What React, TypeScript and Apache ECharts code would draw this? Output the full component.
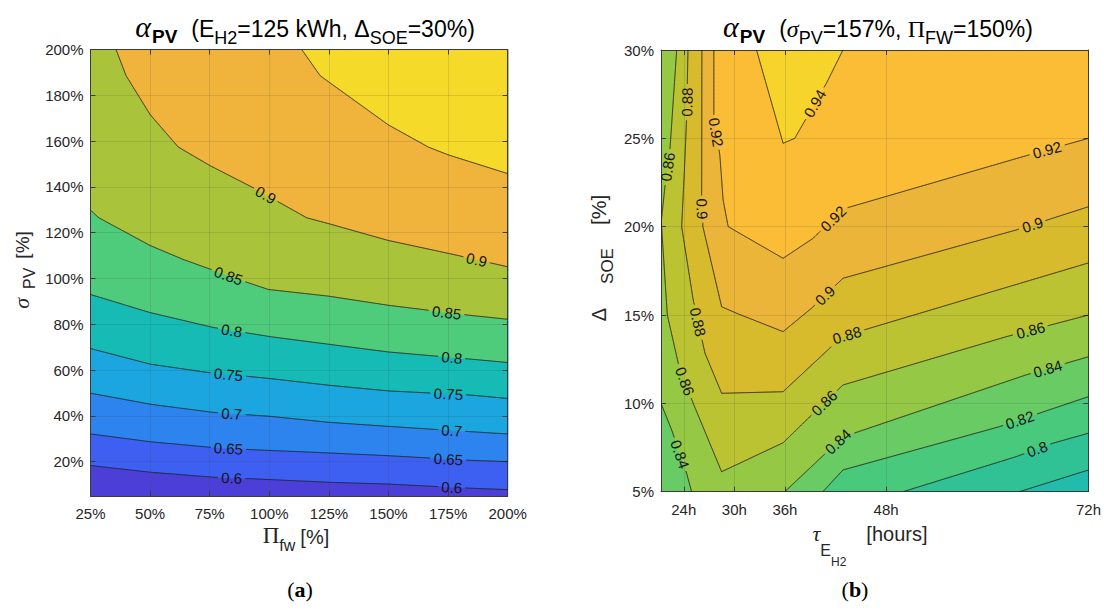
import React, { useEffect, useRef } from "react";
import * as echarts from "echarts";

const SANS = '"Liberation Sans", Arial, sans-serif';
const SERIF = '"Liberation Serif", "Times New Roman", serif';

// ================= (a) alpha_PV vs Pi_fw and sigma_PV =================
const aXTicks = [25, 50, 75, 100, 125, 150, 175, 200];
const aYTicks = [20, 40, 60, 80, 100, 120, 140, 160, 180, 200];
const aXRange = [25, 200];
const aYRange = [5, 200];
const aLevels = [0.6, 0.65, 0.7, 0.75, 0.8, 0.85, 0.9, 0.95];
const aLine060 = [[25, 18.3], [50, 15.4], [76.5, 13.2], [93.3, 12.5], [124.7, 11], [149.9, 10.2], [184.2, 8.4], [200, 7.8]];
const aLine065 = [[25, 32.1], [50, 28.7], [75.1, 26.3], [93.3, 25.2], [124.7, 23.8], [149.9, 22.6], [184.2, 20.6], [200, 20]];
const aLine070 = [[25, 49.9], [50, 45.1], [76.5, 41.5], [100.3, 39.8], [124.7, 37.2], [149.9, 35.4], [184.2, 33.1], [200, 32.1]];
const aLine075 = [[25, 69.4], [50, 62.6], [73.7, 59], [100.3, 56.3], [124.7, 53.4], [149.9, 50.9], [184.2, 49.1], [200, 47.6]];
const aLine080 = [[25, 93], [50, 85.1], [76.5, 78.6], [100.3, 74.6], [124.7, 71.3], [149.9, 67.9], [184.2, 64.8], [200, 63.3]];
const aLine085 = [[25, 129.8], [28.5, 126.5], [50, 114.4], [63.9, 108.3], [89, 98.9], [99.6, 95.2], [124.7, 92.3], [149.9, 88.3], [184.2, 83.9], [200, 82.2]];
const aLine090 = [[35.7, 200], [39.9, 188.6], [50, 171.6], [61.8, 157.4], [75.1, 149.3], [93.3, 139.6], [115.7, 126.5], [124.7, 124], [149.9, 116.6], [177.2, 110.5], [200, 105.1]];
const aLine095 = [[113.6, 200], [121.3, 188.6], [124.7, 186], [149.9, 167.1], [166.7, 157.4], [175, 154], [200, 145.8]];
const aLineList = [aLine060, aLine065, aLine070, aLine075, aLine080, aLine085, aLine090, aLine095];
const aBandColors = ["#4b3fd7", "#3e60f2", "#2d84ef", "#1ba6df", "#16bbb5", "#4ecb7b", "#a9c43a", "#f0b43c", "#f5da2a"];
const aLabels = [
  [0.9, 98.2, 135.9], [0.9, 187.0, 108.3],
  [0.85, 82.8, 101.0], [0.85, 174.4, 85.1],
  [0.8, 84.2, 77.1], [0.8, 176.5, 64.7],
  [0.75, 82.8, 57.5], [0.75, 175.1, 48.8],
  [0.7, 84.2, 40.8], [0.7, 176.5, 33.5],
  [0.65, 82.8, 25.5], [0.65, 175.1, 20.4],
  [0.6, 84.2, 12.2], [0.6, 176.5, 8.1],
];

// ================= (b) alpha_PV vs tau_EH2 and Delta_SOE =================
const bXTicks = [24, 30, 36, 48, 72];
const bYTicks = [5, 10, 15, 20, 25, 30];
const bXRange = [21.3, 72];
const bYRange = [5, 30];
const bLine078 = [[63.8, 5], [72, 6.23]];
const bLine080 = [[50, 5], [63.4, 6.98], [67.74, 7.74], [72, 8.31]];
const bLine082 = [[40.5, 5], [42.88, 6.23], [61.43, 8.68], [72, 10.38]];
const bLine084a = [[21.3, 10], [22.57, 8.49], [24.34, 6.04], [24.93, 5]];
const bLine084b = [[35.98, 5], [42.88, 8.1], [64.59, 11.61], [72, 12.64]];
const bLine086 = [[23.16, 30], [22.36, 24.35], [21.77, 22.27], [21.33, 20.3], [22.05, 15.0], [23.35, 12.27], [25.12, 10.0], [28.49, 6.13], [35.78, 7.77], [38.94, 9.24], [42.88, 11.04], [62.22, 13.77], [72, 15.0]];
const bLine088 = [[24.5, 30], [24.34, 26.15], [24.06, 23.04], [23.75, 20.0], [25.12, 15.85], [26.51, 12.85], [28.49, 10.57], [35.78, 10.66], [41.3, 13.12], [42.88, 13.8], [72, 17.95]];
const bLine090 = [[26.15, 30], [26.12, 21.68], [26.27, 20.0], [28.49, 15.47], [30.26, 15.1], [35.78, 14.06], [39.14, 15.38], [42.88, 17.08], [63.4, 19.81], [72, 21.13]];
const bLine092 = [[27.57, 30], [27.57, 26.2], [28.28, 24.05], [28.67, 21.51], [29.27, 20.0], [35.78, 18.21], [39.33, 19.34], [42.88, 21.0], [64.19, 23.96], [72, 25.0]];
const bLine094 = [[32.63, 30], [35.78, 24.72], [37.16, 25.0], [40.91, 28.11], [42.88, 30]];
const bLevels = [0.78, 0.8, 0.82, 0.84, 0.86, 0.88, 0.9, 0.92, 0.94];
const bLineLevels = [0.78, 0.8, 0.82, 0.84, 0.84, 0.86, 0.88, 0.9, 0.92, 0.94];
const bLineList = [bLine078, bLine080, bLine082, bLine084a, bLine084b, bLine086, bLine088, bLine090, bLine092, bLine094];
// superlevel regions: which lines (indices into bLineList) and boundary corners close them
const bRegionLines = [[0], [1], [2], [3, 4], [5], [6], [7], [8], [9]];
const bRegionClose = [
  [[72, 30], [21.3, 30], [21.3, 5]],
  [[72, 30], [21.3, 30], [21.3, 5]],
  [[72, 30], [21.3, 30], [21.3, 5]],
  [[72, 30], [21.3, 30]],
  [[72, 30]], [[72, 30]], [[72, 30]], [[72, 30]], [],
];
const bBandColors = ["#22bcad", "#30c294", "#48c97c", "#68cb64", "#95c845", "#bbc333", "#d7bb2d", "#ebb53a", "#fbbd35", "#f6d42b"];
const bLabels = [
  [0.88, 24.54, 27.05], [0.92, 28.08, 25.36], [0.86, 22.16, 23.38], [0.9, 26.15, 21.0],
  [0.88, 25.62, 14.6], [0.86, 23.9, 11.21], [0.84, 23.31, 7.08],
  [0.94, 39.53, 26.98], [0.92, 67.15, 24.24], [0.92, 42.1, 20.28], [0.9, 65.37, 20.1], [0.9, 40.71, 16.13],
  [0.88, 43.47, 13.68], [0.86, 65.18, 14.06], [0.86, 40.71, 10.0], [0.84, 67.15, 11.98], [0.84, 42.1, 7.93],
  [0.82, 63.8, 9.15], [0.8, 65.96, 7.36],
];

// ================= helpers =================
const LABEL_FONT = `15px ${SANS}`;
let measureCtx: CanvasRenderingContext2D | null = null;
function textWidth(t: string, font: string) {
  if (!measureCtx) measureCtx = document.createElement("canvas").getContext("2d");
  measureCtx!.font = font;
  return measureCtx!.measureText(t).width;
}

function project(pts: number[][], p: number[]) {
  let best = Infinity, bx = 0, by = 0, bdx = 1, bdy = 0;
  for (let i = 0; i < pts.length - 1; i++) {
    const [x0, y0] = pts[i];
    const [x1, y1] = pts[i + 1];
    const dx = x1 - x0, dy = y1 - y0;
    const L2 = dx * dx + dy * dy || 1;
    let t = ((p[0] - x0) * dx + (p[1] - y0) * dy) / L2;
    t = Math.max(0, Math.min(1, t));
    const qx = x0 + dx * t, qy = y0 + dy * t;
    const d = (qx - p[0]) ** 2 + (qy - p[1]) ** 2;
    if (d < best) { best = d; bx = qx; by = qy; bdx = dx; bdy = dy; }
  }
  return { x: bx, y: by, dx: bdx, dy: bdy, d: best };
}

function labelGeom(api: any, lines: number[][][], lineLevels: number[], lab: number[]) {
  const p = api.coord([lab[1], lab[2]]);
  let best: any = null;
  lines.forEach((ln, i) => {
    if (Math.abs(lineLevels[i] - lab[0]) > 1e-9) return;
    const px = ln.map((q) => api.coord(q));
    const r = project(px, p);
    if (!best || r.d < best.d) best = r;
  });
  let phi = Math.atan2(-best.dy, best.dx);
  while (phi > Math.PI / 2 + 1e-6) phi -= Math.PI;
  while (phi <= -Math.PI / 2 + 1e-6) phi += Math.PI;
  const text = String(lab[0]);
  return { x: best.x, y: best.y, phi, text, hw: textWidth(text, LABEL_FONT) / 2 + 3, hh: 7 };
}

function makeSeries(xi: number, lines: number[][][], lineLevels: number[], regions: number[][][], colors: string[], labels: number[][], xr: number[], yr: number[]) {
  const bg = [[xr[0], yr[0]], [xr[1], yr[0]], [xr[1], yr[1]], [xr[0], yr[1]]];
  const polys = [bg, ...regions];
  const fill = {
    type: "custom", xAxisIndex: xi * 2, yAxisIndex: xi * 2, silent: true, z: 1, clip: true,
    data: polys.map((_, i) => [xr[0], yr[0], i]),
    renderItem: (params: any, api: any) => {
      const i = params.dataIndex;
      const pts = polys[i].map((q) => api.coord(q));
      return { type: "polygon", shape: { points: pts }, style: { fill: colors[i], stroke: colors[i], lineWidth: 0.6 } };
    },
  };
  const lineSeries = {
    type: "custom", xAxisIndex: xi * 2, yAxisIndex: xi * 2, silent: true, z: 4, clip: true,
    data: lines.map((_, i) => [xr[0], yr[0], i]),
    renderItem: (params: any, api: any) => {
      const i = params.dataIndex;
      const pts = lines[i].map((q) => api.coord(q));
      const geoms = labels.filter((l) => Math.abs(l[0] - lineLevels[i]) < 1e-9).map((l) => labelGeom(api, lines, lineLevels, l));
      const inGap = (x: number, y: number) => geoms.some((g) => {
        const c = Math.cos(g.phi), s = Math.sin(g.phi);
        const u = (x - g.x) * c - (y - g.y) * s;
        const v = (x - g.x) * s + (y - g.y) * c;
        return Math.abs(u) < g.hw && Math.abs(v) < g.hh;
      });
      const pieces: number[][][] = [];
      let cur: number[][] = [];
      for (let s = 0; s < pts.length - 1; s++) {
        const [x0, y0] = pts[s];
        const [x1, y1] = pts[s + 1];
        const n = Math.max(1, Math.ceil(Math.hypot(x1 - x0, y1 - y0) / 0.8));
        for (let k = s === 0 ? 0 : 1; k <= n; k++) {
          const t = k / n;
          const x = x0 + (x1 - x0) * t, y = y0 + (y1 - y0) * t;
          if (inGap(x, y)) { if (cur.length > 1) pieces.push(cur); cur = []; }
          else cur.push([x, y]);
        }
      }
      if (cur.length > 1) pieces.push(cur);
      return {
        type: "group",
        children: pieces.map((pc) => ({ type: "polyline", shape: { points: pc }, style: { stroke: "#1e1e1e", lineWidth: 0.9, fill: null } })),
      };
    },
  };
  const labelSeries = {
    type: "custom", xAxisIndex: xi * 2, yAxisIndex: xi * 2, silent: true, z: 5, clip: false,
    data: labels.map((_, i) => [xr[0], yr[0], i]),
    renderItem: (params: any, api: any) => {
      const g = labelGeom(api, lines, lineLevels, labels[params.dataIndex]);
      return {
        type: "text", x: g.x, y: g.y, rotation: g.phi,
        style: { text: g.text, font: LABEL_FONT, fill: "#141414", align: "center", verticalAlign: "middle" },
      };
    },
  };
  return [fill, lineSeries, labelSeries];
}

type Piece = { t: string; font: string; size: number; dy?: number; gap?: number; color?: string };
function textRun(pieces: Piece[], x: number, y: number, anchor: "left" | "center", rotation = 0, color = "#262626") {
  const widths = pieces.map((p) => textWidth(p.t, p.font));
  const total = widths.reduce((a, w, i) => a + w + (pieces[i].gap || 0), 0);
  let cx = anchor === "center" ? -total / 2 : 0;
  const children = pieces.map((p, i) => {
    cx += p.gap || 0;
    const el = {
      type: "text", x: cx, y: (p.dy || 0) - 0.35 * p.size,
      style: { text: p.t, font: p.font, fill: p.color || color, align: "left", verticalAlign: "middle" },
    };
    cx += widths[i];
    return el;
  });
  return { type: "group", x, y, rotation, children };
}

function axisPair(gridIndex: number, range: number[], ticks: number[], fmt: (v: number) => string, dir: "x" | "y", interval?: number) {
  const common = {
    type: "value", gridIndex, min: range[0], max: range[1], z: 3,
    axisLine: { show: true, onZero: false, lineStyle: { color: "#3a3a3a", width: 1 } },
    axisTick: { show: true, inside: true, length: 5, lineStyle: { color: "#3a3a3a" }, customValues: ticks },
  };
  const main: any = {
    ...common,
    position: dir === "x" ? "bottom" : "left",
    axisLabel: { show: true, customValues: ticks, formatter: (v: number) => fmt(v), color: "#262626", fontSize: 15, fontFamily: "Liberation Sans", margin: dir === "x" ? 10 : 7 },
    splitLine: { show: true, lineStyle: { color: "rgba(60,60,60,0.15)", width: 1 } },
  };
  const second: any = {
    ...common,
    position: dir === "x" ? "top" : "right",
    axisLabel: { show: false },
    splitLine: { show: false },
  };
  if (interval) { main.interval = interval; second.interval = interval; }
  return [main, second];
}

function buildOption() {
  const aLineLevels = aLevels;
  const aRegions = aLineList.map((ln) => [...ln, [aXRange[1], aYRange[1]], [aXRange[0], aYRange[1]]]);
  const bRegions = bRegionLines.map((idxs, k) => {
    const pts: number[][] = [];
    idxs.forEach((i) => pts.push(...bLineList[i]));
    pts.push(...bRegionClose[k]);
    return pts;
  });
  const pct = (v: number) => `${v}%`;
  const hrs = (v: number) => `${v}h`;
  const [ax0, ax1] = axisPair(0, aXRange, aXTicks, pct, "x", 25);
  const [ay0, ay1] = axisPair(0, aYRange, aYTicks, pct, "y");
  const [bx0, bx1] = axisPair(1, bXRange, bXTicks, hrs, "x");
  const [by0, by1] = axisPair(1, bYRange, bYTicks, pct, "y", 5);

  const S = (n: number) => `${n}px ${SANS}`;
  const graphic = [
    // title (a)
    textRun([
      { t: "α", font: `italic 30px ${SERIF}`, size: 30 },
      { t: "PV", font: `bold 19px ${SANS}`, size: 19, dy: 6, gap: 1 },
      { t: "(E", font: S(23), size: 23, gap: 14 },
      { t: "H2", font: S(18), size: 18, dy: 7 },
      { t: "=125 kWh, Δ", font: S(23), size: 23 },
      { t: "SOE", font: S(18), size: 18, dy: 7 },
      { t: "=30%)", font: S(23), size: 23 },
    ], 305, 37, "center", 0, "#000"),
    // title (b)
    textRun([
      { t: "α", font: `italic 30px ${SERIF}`, size: 30 },
      { t: "PV", font: `bold 19px ${SANS}`, size: 19, dy: 6, gap: 1 },
      { t: "(", font: S(23), size: 23, gap: 14 },
      { t: "σ", font: `italic 24px ${SERIF}`, size: 24 },
      { t: "PV", font: S(18), size: 18, dy: 7 },
      { t: "=157%, ", font: S(23), size: 23 },
      { t: "Π", font: `24px ${SERIF}`, size: 24 },
      { t: "FW", font: S(18), size: 18, dy: 7 },
      { t: "=150%)", font: S(23), size: 23 },
    ], 878, 37, "center", 0, "#000"),
    // x name (a)
    textRun([
      { t: "Π", font: `23px ${SERIF}`, size: 23 },
      { t: "fw", font: S(16), size: 16, dy: 7 },
      { t: "[%]", font: S(20), size: 20, gap: 5 },
    ], 296, 544, "center"),
    // y name (a)
    textRun([
      { t: "σ", font: `italic 22px ${SERIF}`, size: 22 },
      { t: "PV", font: S(16), size: 16, dy: 6, gap: 9 },
      { t: "[%]", font: S(19), size: 19, gap: 9 },
    ], 29, 270, "center", Math.PI / 2),
    // x name (b)
    textRun([
      { t: "τ", font: `italic 22px ${SERIF}`, size: 22 },
      { t: "E", font: S(16), size: 16, dy: 15 },
      { t: "H2", font: S(12), size: 12, dy: 25 },
      { t: "[hours]", font: S(20), size: 20, gap: 20 },
    ], 870, 541, "center"),
    // y name (b)
    textRun([
      { t: "Δ", font: S(20), size: 20 },
      { t: "SOE", font: S(17), size: 17, dy: 7, gap: 24 },
      { t: "[%]", font: S(21), size: 21, gap: 23 },
    ], 606, 258, "center", Math.PI / 2),
    // captions
    textRun([
      { t: "(", font: `22px ${SERIF}`, size: 22 },
      { t: "a", font: `bold 22px ${SERIF}`, size: 22 },
      { t: ")", font: `22px ${SERIF}`, size: 22 },
    ], 300, 597, "center", 0, "#000"),
    textRun([
      { t: "(", font: `22px ${SERIF}`, size: 22 },
      { t: "b", font: `bold 22px ${SERIF}`, size: 22 },
      { t: ")", font: `22px ${SERIF}`, size: 22 },
    ], 855, 597, "center", 0, "#000"),
  ];

  return {
    animation: false,
    backgroundColor: "#ffffff",
    grid: [
      { left: 90.5, top: 49.5, width: 417.2, height: 446.5 },
      { left: 661, top: 50, width: 428.3, height: 441.7 },
    ],
    xAxis: [ax0, ax1, bx0, bx1],
    yAxis: [ay0, ay1, by0, by1],
    series: [
      ...makeSeries(0, aLineList, aLineLevels, aRegions, aBandColors, aLabels, aXRange, aYRange),
      ...makeSeries(1, bLineList, bLineLevels, bRegions, bBandColors, bLabels, bXRange, bYRange),
    ],
    graphic,
  };
}

export default function App() {
  const ref = useRef<HTMLDivElement>(null);
  useEffect(() => {
    const chart = echarts.init(ref.current!, null, { renderer: "svg" });
    chart.setOption(buildOption() as any);
    return () => chart.dispose();
  }, []);
  return <div ref={ref} style={{ position: "fixed", left: 0, top: 0, width: 1104, height: 611, background: "#fff" }} />;
}
